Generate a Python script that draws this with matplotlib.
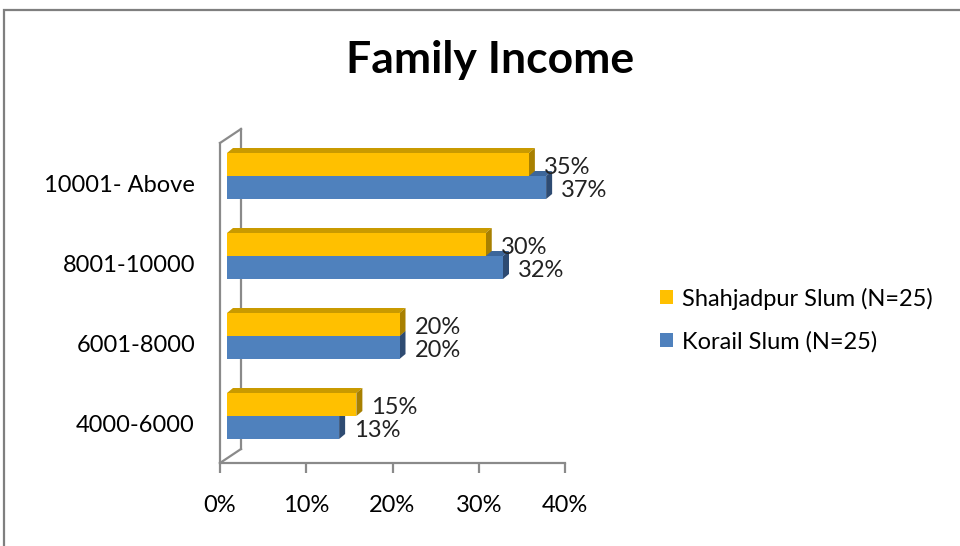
import matplotlib
matplotlib.use("Agg")
import matplotlib.pyplot as plt
from matplotlib.patches import Polygon, Rectangle, Patch
from matplotlib.lines import Line2D
from matplotlib.transforms import ScaledTranslation

plt.rcParams['font.family'] = ['Lato', 'DejaVu Sans']

categories = ['4000-6000', '6001-8000', '8001-10000', '10001- Above']
shahjadpur = [15, 20, 30, 35]
korail = [13, 20, 32, 37]
series_names = ['Shahjadpur Slum (N=25)', 'Korail Slum (N=25)']
xticks = [0, 10, 20, 30, 40]

W, H = 960, 546
FS = 17
fig = plt.figure(figsize=(9.6, 5.46), dpi=100)

# outer frame of the chart area (only left and top edges fall inside the picture)
fig.patches.append(Rectangle((4 / W, -0.5), 2.0, 1.5 - 10 / H, transform=fig.transFigure,
                             fill=False, edgecolor='#7f7f7f', linewidth=1.6))

ax = fig.add_axes([220 / W, (H - 463) / H, 345 / W, 320 / H])
ax.set_xlim(0, 40)
ax.set_ylim(-0.5, 3.5)
for s in ax.spines.values():
    s.set_visible(False)

px = 1 / 100.0
shift = ax.transData + ScaledTranslation(7 * px, 7 * px, fig.dpi_scale_trans)

bh = 0.2875
dx = 6 / 8.625   # depth of bars in data units (x)
dy = 5 / 80.0    # depth of bars in data units (y)

def bar3d(y, val, front, top, side):
    y0 = y - bh / 2
    ax.add_patch(Rectangle((0, y0), val, bh, facecolor=front, edgecolor='none',
                           transform=shift, zorder=3))
    ax.add_patch(Polygon([(0, y0 + bh), (val, y0 + bh), (val + dx, y0 + bh + dy),
                          (dx, y0 + bh + dy)], closed=True, facecolor=top,
                         edgecolor='none', transform=shift, zorder=2))
    ax.add_patch(Polygon([(val, y0), (val, y0 + bh), (val + dx, y0 + bh + dy),
                          (val + dx, y0 + dy)], closed=True, facecolor=side,
                         edgecolor='none', transform=shift, zorder=2))

for i in range(len(categories)):
    bar3d(i - bh / 2, korail[i], '#4F81BD', '#3C669A', '#2E4B72')
    bar3d(i + bh / 2, shahjadpur[i], '#FFC000', '#C99A00', '#A88000')
    ax.annotate(f'{shahjadpur[i]}%', (shahjadpur[i], i + bh / 2), xytext=(22, 4),
                textcoords='offset pixels', va='center', ha='left', fontsize=FS,
                color='#222222')
    ax.annotate(f'{korail[i]}%', (korail[i], i - bh / 2), xytext=(22, 4),
                textcoords='offset pixels', va='center', ha='left', fontsize=FS,
                color='#222222')

# side wall and floor edges
wx, wy = 21 / 345, 14 / 320
wall = '#8a8a8a'
for xs, ys in [([0, 0], [0, 1]), ([0, wx], [1, 1 + wy]), ([wx, wx], [1 + wy, wy]),
               ([0, wx], [0, wy]), ([0, 1], [0, 0])]:
    ax.add_line(Line2D(xs, ys, transform=ax.transAxes, color=wall, lw=1.6,
                       clip_on=False, zorder=1))

ax.set_xticks(xticks)
ax.set_xticklabels([f'{t}%' for t in xticks], fontsize=FS)
ax.tick_params(axis='x', length=7, width=1.6, color=wall, pad=16, direction='out')
ax.set_yticks(range(len(categories)))
ax.set_yticklabels(categories, fontsize=FS)
ax.tick_params(axis='y', length=0, pad=18)

fig.text(490 / W, 1 - 60 / H, 'Family Income', ha='center', va='center',
         fontsize=32, fontweight='bold')

handles = [Patch(facecolor='#FFC000'), Patch(facecolor='#4F81BD')]
fig.legend(handles, series_names, loc='center left',
           bbox_to_anchor=(660 / W, 1 - 320 / H), frameon=False, fontsize=FS,
           handlelength=0.55, handleheight=0.55, handletextpad=0.4,
           labelspacing=0.9, borderpad=0, borderaxespad=0)

fig.savefig('out.png', dpi=100)
